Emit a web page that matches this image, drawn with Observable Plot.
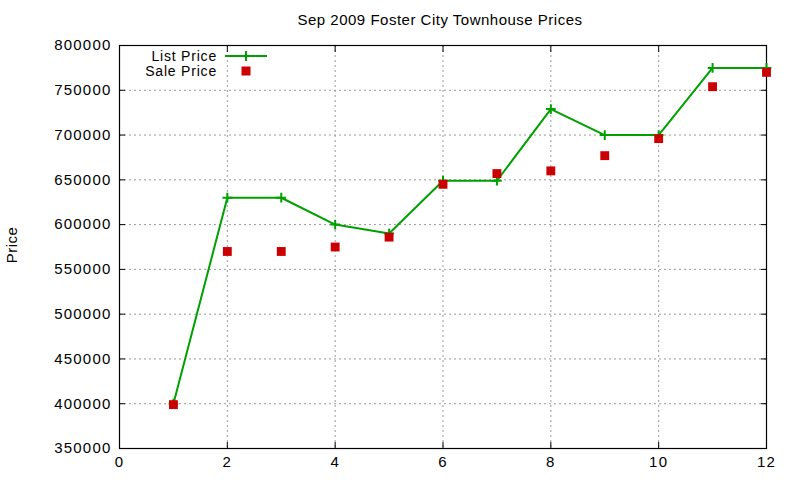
<!DOCTYPE html>
<html>
<head>
<meta charset="utf-8">
<script src="https://cdn.jsdelivr.net/npm/d3@7"></script>
<script src="https://cdn.jsdelivr.net/npm/@observablehq/plot@0.6"></script>
<style>
  body { margin: 0; background: #fff; font-family: "Liberation Sans", Arial, sans-serif; }
  #wrap { position: relative; width: 800px; height: 480px; }
  #title { position: absolute; left: 0; width: 880px; top: 11px; text-align: center; font-size: 15px; letter-spacing: 0.5px; color: #000; }
  #chart { position: absolute; left: 0; top: 0; }
  #legend { position: absolute; left: 0; top: 0; pointer-events: none; }
</style>
</head>
<body>
<div id="wrap">
  <div id="chart"></div>
  <div id="title"></div>
  <svg id="legend" width="800" height="100"></svg>
</div>
<script>
const title = "Sep 2009 Foster City Townhouse Prices";
const yLabel = "Price";
const seriesNames = ["List Price", "Sale Price"];
const months = [1, 2, 3, 4, 5, 6, 7, 8, 9, 10, 11, 12];
const listPrice = [400000, 630000, 630000, 600000, 590000, 649000, 649000, 729000, 700000, 700000, 775000, 775000];
const salePrice = [399000, 570000, 570000, 575000, 586000, 645000, 657000, 660000, 677000, 696000, 754000, 770000];
const xTicks = [0, 2, 4, 6, 8, 10, 12];
const yTicks = [350000, 400000, 450000, 500000, 550000, 600000, 650000, 700000, 750000, 800000];

const green = "#00a000";
const red = "#cc0000";

const listData = months.map((m, i) => ({x: m, y: listPrice[i]}));
const saleData = months.map((m, i) => ({x: m, y: salePrice[i]}));

const plusSymbol = {
  draw(ctx, size) {
    const r = Math.sqrt(size) / 2;
    ctx.moveTo(-r, 0); ctx.lineTo(r, 0);
    ctx.moveTo(0, -r); ctx.lineTo(0, r);
  }
};

document.getElementById("title").textContent = title;

const fmt = d3.format("d");
const chart = Plot.plot({
  width: 800,
  height: 480,
  marginLeft: 119,
  marginRight: 34,
  marginTop: 45,
  marginBottom: 32,
  style: {fontFamily: "Liberation Sans, Arial, sans-serif", fontSize: "15px", color: "#000", letterSpacing: "1.2px"},
  x: {domain: [0, 12]},
  y: {domain: [350000, 800000]},
  marks: [
    Plot.gridX(xTicks, {stroke: "#999", strokeOpacity: 1, strokeDasharray: "2,3"}),
    Plot.gridY(yTicks, {stroke: "#999", strokeOpacity: 1, strokeDasharray: "2,3"}),
    Plot.axisX(xTicks, {anchor: "bottom", tickSize: -6, tickPadding: 14, tickFormat: fmt, label: null, fontSize: 15}),
    Plot.axisX(xTicks, {anchor: "top", tickSize: -6, tickFormat: () => "", label: null}),
    Plot.axisY(yTicks, {anchor: "left", tickSize: -6, tickPadding: 14, tickFormat: fmt, label: null, fontSize: 15}),
    Plot.axisY(yTicks, {anchor: "right", tickSize: -6, tickFormat: () => "", label: null}),
    Plot.frame({stroke: "#000", strokeWidth: 1.2}),
    Plot.line(listData, {x: "x", y: "y", stroke: green, strokeWidth: 2}),
    Plot.dot(listData, {x: "x", y: "y", symbol: plusSymbol, r: 5.5, stroke: green, strokeWidth: 2, fill: "none"}),
    Plot.dot(saleData, {x: "x", y: "y", symbol: "square", r: 5, fill: red, stroke: "none"})
  ]
});
document.getElementById("chart").appendChild(chart);

// y-axis label, rotated, in the left margin
const svg = d3.select(chart);
svg.append("text")
  .attr("transform", "translate(17,245) rotate(-90)")
  .attr("text-anchor", "middle")
  .attr("font-size", 15)
  .style("letter-spacing", "0.5px")
  .text(yLabel);

// legend
const lg = d3.select("#legend");
const rows = [{name: seriesNames[0], y: 56}, {name: seriesNames[1], y: 71}];
rows.forEach((r, i) => {
  lg.append("text").attr("x", 217).attr("y", r.y).attr("dy", "0.35em")
    .attr("text-anchor", "end").attr("font-size", 14)
    .style("letter-spacing", "0.8px")
    .attr("font-family", "Liberation Sans, Arial, sans-serif").text(r.name);
});
lg.append("line").attr("x1", 225).attr("x2", 267).attr("y1", 56).attr("y2", 56).attr("stroke", green).attr("stroke-width", 2);
lg.append("path").attr("d", "M241,56H251M246,51V61").attr("stroke", green).attr("stroke-width", 2);
lg.append("rect").attr("x", 241.5).attr("y", 66.5).attr("width", 9).attr("height", 9).attr("fill", red);
</script>
</body>
</html>
